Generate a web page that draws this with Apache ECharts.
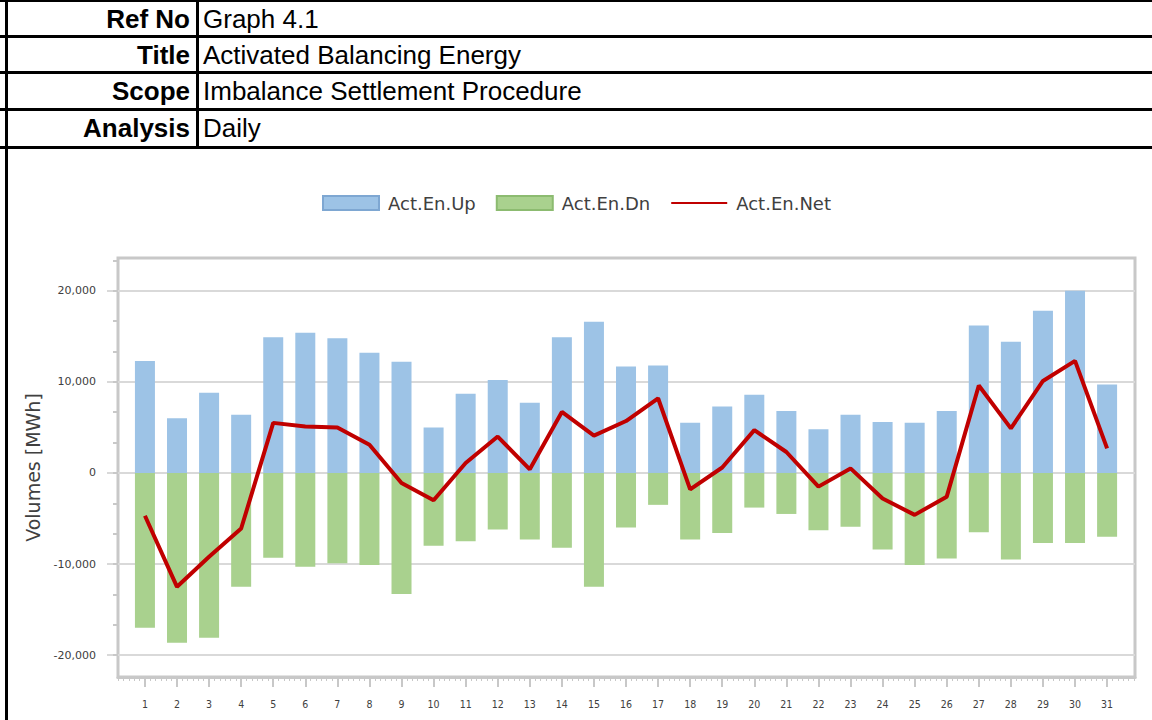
<!DOCTYPE html>
<html>
<head>
<meta charset="utf-8">
<title>Activated Balancing Energy</title>
<script src="https://cdn.jsdelivr.net/npm/echarts@6/dist/echarts.min.js"></script>
<style>
  html, body { margin: 0; padding: 0; background: #fff; }
  #wrap { position: relative; width: 1152px; height: 720px; overflow: hidden; background: #fff; }
  #chart { position: absolute; left: 0; top: 0; width: 1152px; height: 720px; }
  .rule { position: absolute; background: #000; z-index: 2; }
  .cell { position: absolute; z-index: 2; font-family: 'Liberation Sans', Arial, sans-serif;
          font-size: 26px; color: #000; line-height: 34px; white-space: nowrap; }
  .key { text-align: right; font-weight: bold; left: 8px; width: 182px; }
  .val { left: 203px; }
</style>
</head>
<body>
<div id="wrap">
  <div id="chart"></div>

  <!-- report header block -->
  <div class="rule" style="left:0;top:0;width:1152px;height:2px"></div>
  <div class="rule" style="left:0;top:35px;width:1152px;height:3px"></div>
  <div class="rule" style="left:0;top:71px;width:1152px;height:3px"></div>
  <div class="rule" style="left:0;top:108px;width:1152px;height:3px"></div>
  <div class="rule" style="left:0;top:146px;width:1152px;height:3px"></div>
  <div class="rule" style="left:5px;top:0;width:3px;height:720px"></div>
  <div class="rule" style="left:196px;top:0;width:3px;height:148px"></div>

  <div class="cell key" style="top:2px">Ref No</div>
  <div class="cell val" style="top:2px">Graph 4.1</div>
  <div class="cell key" style="top:38px">Title</div>
  <div class="cell val" style="top:38px">Activated Balancing Energy</div>
  <div class="cell key" style="top:74px">Scope</div>
  <div class="cell val" style="top:74px">Imbalance Settlement Procedure</div>
  <div class="cell key" style="top:111px">Analysis</div>
  <div class="cell val" style="top:111px">Daily</div>
</div>

<script>
// Daily volumes (MWh), one entry per day of the month
const days = [1, 2, 3, 4, 5, 6, 7, 8, 9, 10, 11, 12, 13, 14, 15, 16,
              17, 18, 19, 20, 21, 22, 23, 24, 25, 26, 27, 28, 29, 30, 31];
const actEnUp = [12300, 6000, 8800, 6400, 14900, 15400, 14800, 13200, 12200, 5000,
                 8700, 10200, 7700, 14900, 16600, 11700, 11800, 5500, 7300, 8600,
                 6800, 4800, 6400, 5600, 5500, 6800, 16200, 14400, 17800, 20000, 9700];
const actEnDn = [-17000, -18650, -18100, -12500, -9300, -10300, -9900, -10100, -13300, -8000,
                 -7500, -6200, -7300, -8200, -12500, -6000, -3500, -7300, -6600, -3800,
                 -4500, -6300, -5900, -8400, -10100, -9400, -6500, -9500, -7700, -7700, -7000];
const actEnNet = [-4700, -12500, -9200, -6100, 5500, 5100, 5000, 3100, -1100, -3000,
                  1100, 4000, 400, 6700, 4100, 5700, 8200, -1800, 600, 4700,
                  2300, -1500, 500, -2800, -4600, -2600, 9600, 4900, 10100, 12300, 2700];

// Axis tick values
const yMajorTicks = [-20000, -10000, 0, 10000, 20000];
const yMinorTicks = [];
for (let k = -6; k <= 7; k++) yMinorTicks.push(k * 10000 / 3);

const X_MIN = 0.16, X_MAX = 31.87;
const xMinorTicks = [];
for (let k = 1; k <= 191; k++) xMinorTicks.push(k / 6);

const Y_MIN = -22400, Y_MAX = 23600;
const gridGray = '#d9d9d9';
const frameGray = '#c8c8c8';
const textGray = '#404040';
const uiFont = "'DejaVu Sans', Verdana, sans-serif";

const pair = vals => days.map((d, i) => [d, vals[i]]);

const chart = echarts.init(document.getElementById('chart'), null, { renderer: 'svg' });

chart.setOption({
  animation: false,
  backgroundColor: 'transparent',
  legend: {
    left: 317,
    top: 189,
    itemWidth: 56,
    itemHeight: 14,
    itemGap: 20,
    textStyle: { color: textGray, fontSize: 18, fontFamily: uiFont, padding: [0, 0, 0, 4] },
    data: [
      { name: 'Act.En.Up', icon: 'rect', itemStyle: { color: '#9dc3e6', borderColor: '#7ea7d2', borderWidth: 2 } },
      { name: 'Act.En.Dn', icon: 'rect', itemStyle: { color: '#a9d18e', borderColor: '#8cbb70', borderWidth: 2 } },
      { name: 'Act.En.Net', itemStyle: { opacity: 0 }, lineStyle: { width: 2, color: '#c00000' } }
    ]
  },
  grid: {
    left: 118, right: 17, top: 258, bottom: 43,
    show: true, borderColor: frameGray, borderWidth: 3, backgroundColor: 'transparent'
  },
  xAxis: [{
    type: 'value',
    min: X_MIN, max: X_MAX,
    axisLine: { show: true, onZero: false, lineStyle: { color: frameGray, width: 3 } },
    axisTick: { show: true, customValues: days, length: 10, lineStyle: { color: frameGray, width: 2 } },
    axisLabel: {
      customValues: days,
      color: textGray, fontSize: 10.5, margin: 21,
      fontFamily: "'DejaVu Sans Condensed', " + uiFont
    },
    splitLine: { show: false }
  }, {
    type: 'value',
    position: 'bottom',
    min: X_MIN, max: X_MAX,
    axisLine: { show: false, onZero: false },
    axisLabel: { show: false },
    splitLine: { show: false },
    axisTick: { show: true, customValues: xMinorTicks, length: 4, lineStyle: { color: frameGray, width: 1 } }
  }],
  yAxis: [{
    type: 'value',
    min: Y_MIN, max: Y_MAX,
    axisLine: { show: false },
    axisTick: { show: true, customValues: yMajorTicks, length: 11, lineStyle: { color: gridGray, width: 2 } },
    axisLabel: {
      customValues: yMajorTicks,
      formatter: v => Math.round(v).toLocaleString('en-US'),
      margin: 22, color: textGray, fontSize: 11, fontFamily: uiFont
    },
    splitLine: { show: true, lineStyle: { color: gridGray, width: 2 } },
    name: 'Volumes [MWh]',
    nameLocation: 'middle',
    nameGap: 76,
    nameTextStyle: { color: textGray, fontSize: 19, fontFamily: uiFont }
  }, {
    type: 'value',
    position: 'left',
    min: Y_MIN, max: Y_MAX,
    axisLine: { show: false },
    axisLabel: { show: false },
    splitLine: { show: false },
    axisTick: { show: true, customValues: yMinorTicks, length: 5, lineStyle: { color: frameGray, width: 2 } }
  }],
  series: [{
    name: 'Act.En.Up',
    type: 'bar',
    stack: 'volume',
    barWidth: 20,
    itemStyle: { color: '#9dc3e6' },
    data: pair(actEnUp)
  }, {
    name: 'Act.En.Dn',
    type: 'bar',
    stack: 'volume',
    barWidth: 20,
    itemStyle: { color: '#a9d18e' },
    data: pair(actEnDn)
  }, {
    name: 'Act.En.Net',
    type: 'line',
    symbol: 'none',
    z: 5,
    lineStyle: { color: '#c00000', width: 4 },
    itemStyle: { color: '#c00000' },
    data: pair(actEnNet)
  }]
});
</script>
</body>
</html>
